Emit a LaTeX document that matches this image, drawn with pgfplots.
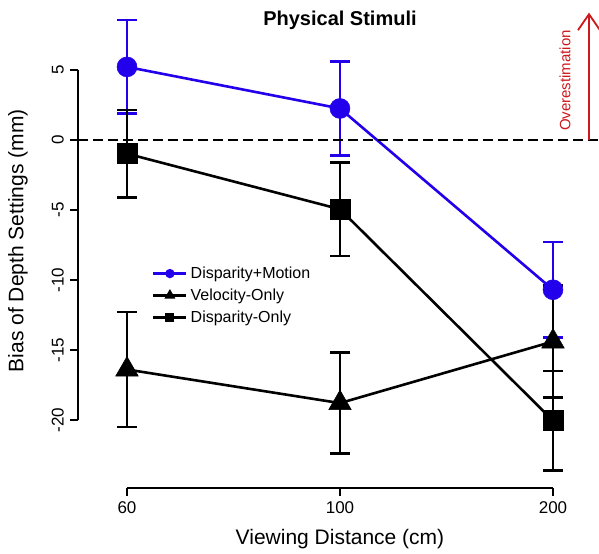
\documentclass[border=0pt]{standalone}
\usepackage{pgfplots}
\pgfplotsset{compat=1.18}
\usepackage{pgfplotstable}
\usepackage{fontspec}
\setmainfont{Liberation Sans}
\usetikzlibrary{arrows.meta}
\definecolor{dmblue}{RGB}{35,0,235}
\definecolor{overred}{RGB}{205,25,30}

% x: 0 = 60 cm, 1 = 100 cm, 2 = 200 cm
\pgfplotstableread{
x y e
0 5.22 3.35
1 2.25 3.35
2 -10.70 3.40
}\dispmotion
\pgfplotstableread{
x y e
0 -16.40 4.10
1 -18.80 3.60
2 -14.40 4.00
}\velonly
\pgfplotstableread{
x y e
0 -0.98 3.13
1 -4.95 3.35
2 -20.05 3.55
}\disponly

\begin{document}
\begin{tikzpicture}
\begin{axis}[
  scale only axis, width=520pt, height=487pt,
  xmin=-0.23, xmax=2.211, ymin=-24.86, ymax=9.93,
  axis line style={draw=none},
  clip=false,
  xtick={0,1,2}, xticklabels={60,100,200},
  ytick={-20,-15,-10,-5,0,5},
  tick pos=left,
  tick align=outside, major tick length=8pt,
  tick style={black, line width=2.6pt},
  ticklabel style={font=\fontsize{17}{20}\selectfont},
  yticklabel style={rotate=90, anchor=south, inner sep=6pt},
  xticklabel style={inner sep=6pt},
  /pgf/number format/assume math mode=true,
  legend image code/.code={\draw[mark repeat=2,mark phase=2,#1] plot coordinates {(0pt,0pt) (16.5pt,0pt) (33pt,0pt)};},
  legend style={at={(axis cs:0.117,-8.75)}, anchor=north west, draw=none, fill=none,
    inner sep=0pt, font=\fontsize{16}{18}\selectfont, cells={anchor=west},
    nodes={inner ysep=4.4pt, inner xsep=3pt}},
  error bars/error bar style={line width=2.6pt, solid},
  error bars/error mark options={rotate=90, line width=2.6pt, mark size=10pt},
]
% axis lines (R style, spanning the ticks only)
\draw[line width=2.6pt] (axis cs:-0.23,-20) -- (axis cs:-0.23,5);
\draw[line width=2.6pt] (axis cs:0,-24.86) -- (axis cs:2,-24.86);

\addplot[forget plot, dmblue, line width=2.6pt, mark=*, mark size=10pt, mark options={solid, line width=0.5pt},
  error bars/.cd, y dir=both, y explicit] table[x=x, y=y, y error=e] {\dispmotion};
\addplot[forget plot, black, line width=2.6pt, mark=triangle*, mark size=13pt, mark options={solid, line width=0.5pt},
  error bars/.cd, y dir=both, y explicit] table[x=x, y=y, y error=e] {\velonly};
\addplot[forget plot, black, line width=2.6pt, mark=square*, mark size=10pt, mark options={solid, line width=0.5pt},
  error bars/.cd, y dir=both, y explicit] table[x=x, y=y, y error=e] {\disponly};

\draw[black, line width=2.6pt, dash pattern=on 10pt off 5pt] (axis cs:-0.23,0) -- (axis cs:2.211,0);

\addlegendimage{dmblue, line width=2.6pt, mark=*, mark size=3.3pt, mark options={solid}}
\addlegendentry{Disparity+Motion}
\addlegendimage{black, line width=2.6pt, mark=triangle*, mark size=3.8pt, mark options={solid}}
\addlegendentry{Velocity-Only}
\addlegendimage{black, line width=2.6pt, mark=square*, mark size=3.2pt, mark options={solid}}
\addlegendentry{Disparity-Only}

\node[font=\bfseries\fontsize{20}{24}\selectfont] at (axis cs:1,8.57) {Physical Stimuli};
\node[rotate=90, font=\fontsize{21}{25}\selectfont] at (axis cs:-0.512,-7.2) {Bias of Depth Settings (mm)};
\node[font=\fontsize{21}{25}\selectfont] at (axis cs:1,-28.55) {Viewing Distance (cm)};

\draw[overred, line width=1.8pt, -{Straight Barb[length=16pt, width=22pt, line width=1.8pt]}] (axis cs:2.169,0) -- (axis cs:2.169,9.1);
\node[overred, rotate=90, font=\fontsize{15}{18}\selectfont] at (axis cs:2.056,4.25) {Overestimation};

\coordinate (bbsw) at (axis cs:-0.5962,-29.571);
\coordinate (bbne) at (axis cs:2.216,10.0);
\end{axis}
\pgfresetboundingbox
\useasboundingbox (bbsw) rectangle (bbne);
\end{tikzpicture}
\end{document}
